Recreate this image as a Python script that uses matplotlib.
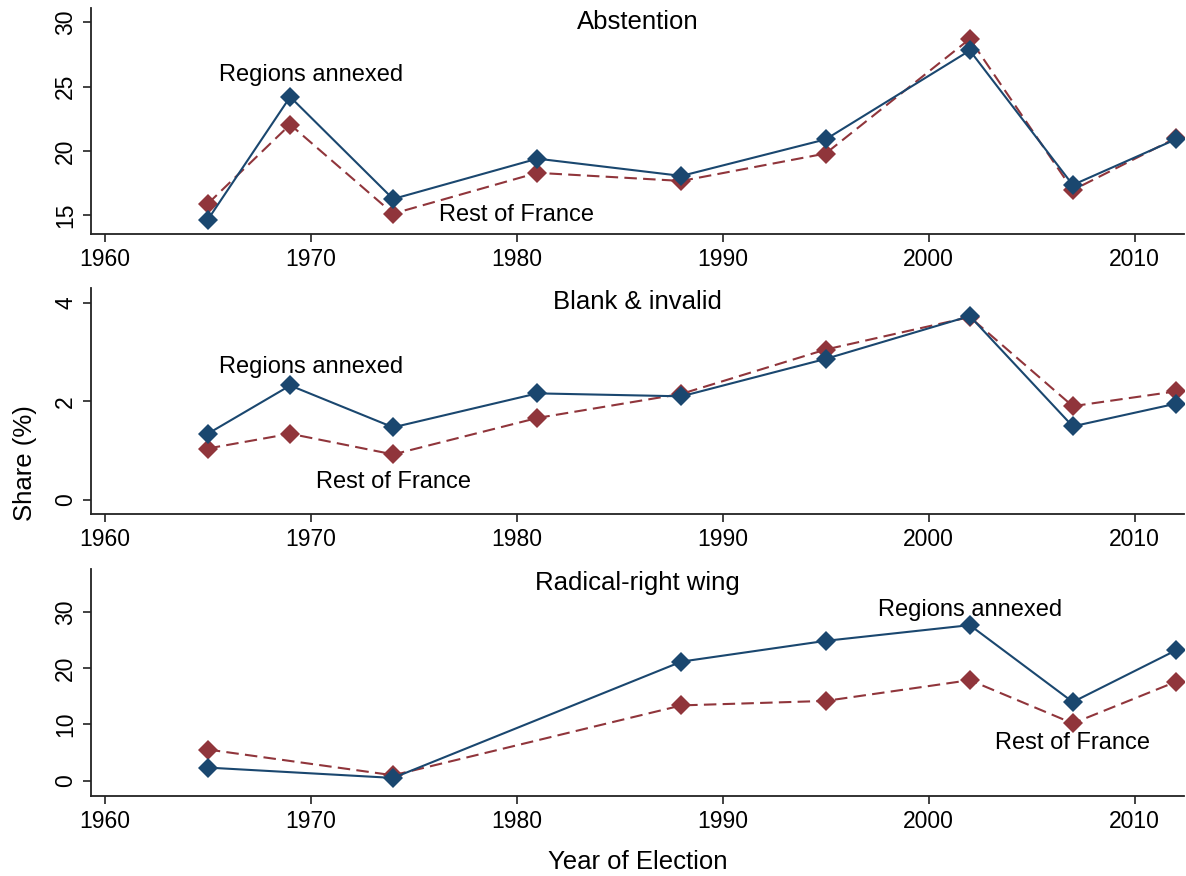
import matplotlib
matplotlib.use("Agg")
import matplotlib.pyplot as plt

plt.rcParams['font.family'] = ['Liberation Sans', 'DejaVu Sans']

# ---- data ----
years = [1965, 1969, 1974, 1981, 1988, 1995, 2002, 2007, 2012]

abst_annexed = [14.66, 24.2, 16.27, 19.4, 18.06, 20.9, 27.8, 17.36, 20.9]
abst_rest    = [15.9, 22.05, 15.13, 18.3, 17.67, 19.8, 28.7, 16.96, 21.0]

blank_annexed = [1.34, 2.32, 1.47, 2.16, 2.10, 2.86, 3.73, 1.49, 1.95]
blank_rest    = [1.04, 1.34, 0.92, 1.66, 2.15, 3.05, 3.71, 1.90, 2.20]

rr_years   = [1965, 1974, 1988, 1995, 2002, 2007, 2012]
rr_annexed = [2.32, 0.48, 21.2, 24.9, 27.7, 14.0, 23.2]
rr_rest    = [5.54, 0.95, 13.4, 14.2, 17.9, 10.2, 17.6]

titles = ["Abstention", "Blank & invalid", "Radical-right wing"]
yticks = [[15, 20, 25, 30], [0, 2, 4], [0, 10, 20, 30]]
ylims = [(13.55, 31.1), (-0.29, 4.3), (-2.74, 37.7)]
xticks = [1960, 1970, 1980, 1990, 2000, 2010]

# label positions (x, y) for series labels
lab_annexed = [(1970, 25.9), (1970, 2.7), (2002, 30.4)]
lab_rest = [(1980, 15.0), (1974, 0.35), (2007, 6.7)]

BLUE = "#1a476f"
RED = "#90353b"

fig = plt.figure(figsize=(11.86, 8.76), dpi=100)
L = 91 / 1186
W = (1184 - 91) / 1186
panels = [(8, 234), (288, 514), (569, 796)]

series = [
    (years, abst_annexed, abst_rest),
    (years, blank_annexed, blank_rest),
    (rr_years, rr_annexed, rr_rest),
]

FS_TICK = 16.5
FS_LAB = 17
FS_TITLE = 18.5
for i, ((top, bot), (xs, ya, yr)) in enumerate(zip(panels, series)):
    ax = fig.add_axes([L, 1 - bot / 876, W, (bot - top) / 876])
    ax.plot(xs, yr, color=RED, lw=1.5, linestyle=(0, (6, 3)),
            marker='D', markersize=10, markeredgewidth=0)
    ax.plot(xs, ya, color=BLUE, lw=1.5, linestyle='-',
            marker='D', markersize=10, markeredgewidth=0)
    ax.set_xlim(1959.33, 2012.4)
    ax.set_ylim(*ylims[i])
    ax.set_xticks(xticks)
    ax.set_yticks(yticks[i])
    ax.set_yticklabels([str(t) for t in yticks[i]], rotation=90, va='center')
    for s in ['top', 'right']:
        ax.spines[s].set_visible(False)
    for s in ['left', 'bottom']:
        ax.spines[s].set_linewidth(1.3)
        ax.spines[s].set_color('#222222')
    ax.tick_params(axis='both', labelsize=FS_TICK, length=6, width=1.2,
                   color='#222222', direction='out')
    ax.tick_params(axis='x', pad=4)
    ax.tick_params(axis='y', pad=4)
    ax.text(0.5, 0.99, titles[i], transform=ax.transAxes, ha='center',
            va='top', fontsize=FS_TITLE)
    ax.text(lab_annexed[i][0], lab_annexed[i][1], "Regions annexed",
            ha='center', va='center', fontsize=FS_LAB)
    ax.text(lab_rest[i][0], lab_rest[i][1], "Rest of France",
            ha='center', va='center', fontsize=FS_LAB)

fig.text(25 / 1186, 1 - 463 / 876, "Share (%)", rotation=90, ha='center',
         va='center', fontsize=FS_TITLE)
fig.text(0.5 * (91 + 1184) / 1186, 1 - 862 / 876, "Year of Election",
         ha='center', va='center', fontsize=FS_TITLE)

fig.savefig("out.png", dpi=100)
